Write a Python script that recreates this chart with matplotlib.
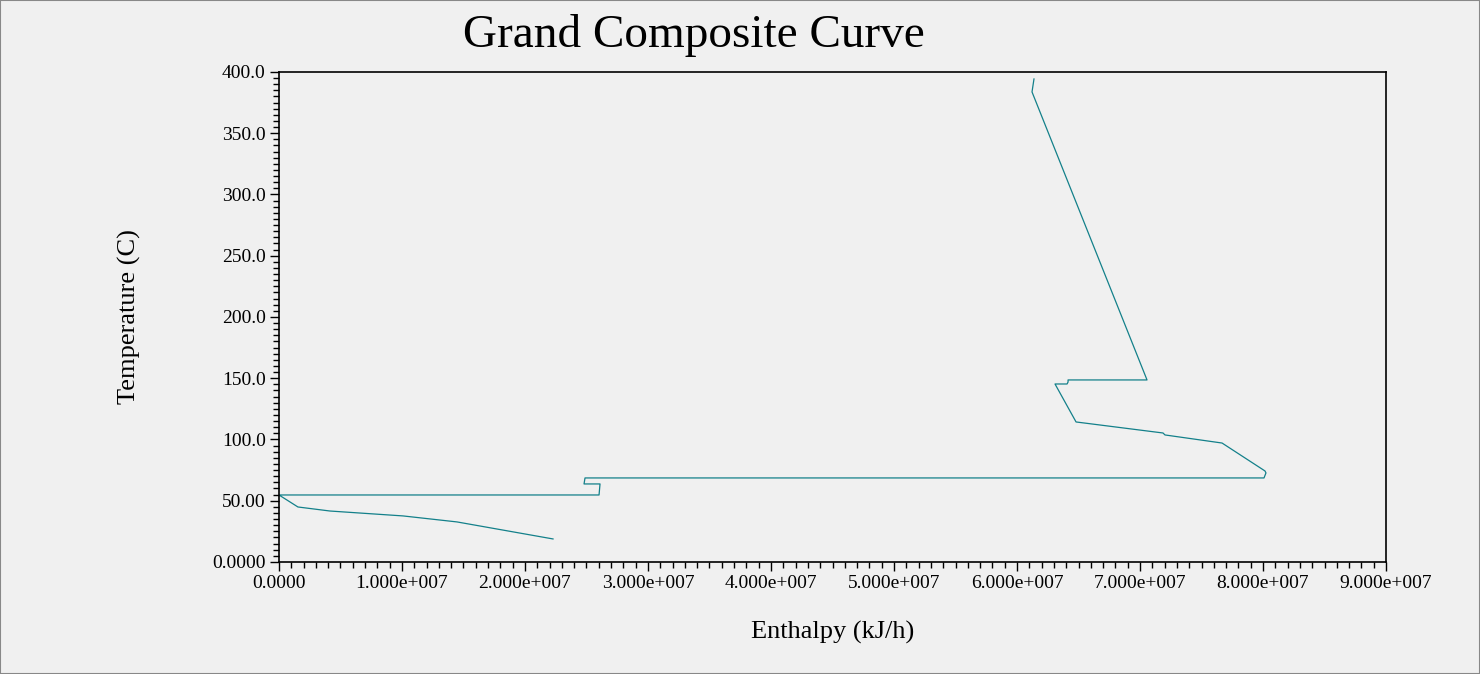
import matplotlib
matplotlib.use("Agg")
import matplotlib.pyplot as plt
from matplotlib.ticker import MultipleLocator, FixedLocator

# grand composite curve (enthalpy kJ/h, temperature C)
enthalpy = [6.138e7, 6.122e7, 7.057e7, 6.415e7, 6.415e7, 6.407e7, 6.309e7,
            6.480e7, 7.187e7, 7.203e7, 7.667e7, 8.016e7, 8.024e7, 8.008e7,
            2.488e7, 2.480e7, 2.610e7, 2.602e7, 0.0, 0.154e7, 0.415e7,
            1.008e7, 1.447e7, 2.228e7]
temperature = [394.3, 383.7, 148.6, 148.6, 146.9, 145.3, 145.3,
               114.3, 105.3, 103.7, 97.1, 74.3, 72.7, 68.6,
               68.6, 63.7, 63.7, 54.7, 54.7, 44.9, 41.6,
               37.6, 32.7, 18.8]

x_ticks = [0, 1e7, 2e7, 3e7, 4e7, 5e7, 6e7, 7e7, 8e7, 9e7]
x_tick_labels = ["0.0000", "1.000e+007", "2.000e+007", "3.000e+007", "4.000e+007",
                 "5.000e+007", "6.000e+007", "7.000e+007", "8.000e+007", "9.000e+007"]
y_ticks = [0, 50, 100, 150, 200, 250, 300, 350, 400]
y_tick_labels = ["0.0000", "50.00", "100.0", "150.0", "200.0",
                 "250.0", "300.0", "350.0", "400.0"]

bg = "#f0f0f0"
fnt = "Liberation Serif"

fig = plt.figure(figsize=(14.8, 6.74), dpi=100, facecolor=bg)
ax = fig.add_axes([0.1885, 0.1662, 0.748, 0.727], facecolor=bg)

ax.plot(enthalpy, temperature, color="#13808a", linewidth=0.9)

ax.set_xlim(0, 9e7)
ax.set_ylim(0, 400)
ax.xaxis.set_major_locator(FixedLocator(x_ticks))
ax.xaxis.set_minor_locator(MultipleLocator(1e6))
ax.yaxis.set_major_locator(FixedLocator(y_ticks))
ax.yaxis.set_minor_locator(MultipleLocator(5))
ax.set_xticklabels(x_tick_labels, fontfamily=fnt, fontsize=14)
ax.set_yticklabels(y_tick_labels, fontfamily=fnt, fontsize=14)
ax.tick_params(which="major", length=6.5, width=1, color="black", pad=3)
ax.tick_params(which="minor", length=4, width=1, color="black")
ax.tick_params(top=False, right=False)

for s in ax.spines.values():
  s.set_color("black")
  s.set_linewidth(1.2)

ax.set_xlabel("Enthalpy (kJ/h)", fontfamily=fnt, fontsize=19, labelpad=21)
ax.set_ylabel("Temperature (C)", fontfamily=fnt, fontsize=19, labelpad=51)
fig.text(0.469, 0.948, "Grand Composite Curve", fontfamily=fnt, fontsize=34,
         ha="center", va="center")

# thin window frame
fig.patches.append(plt.Rectangle((0, 0), 1, 1, transform=fig.transFigure,
                                 fill=False, edgecolor="#888888", linewidth=1.5))

fig.savefig("out.png", dpi=100, facecolor=bg)
